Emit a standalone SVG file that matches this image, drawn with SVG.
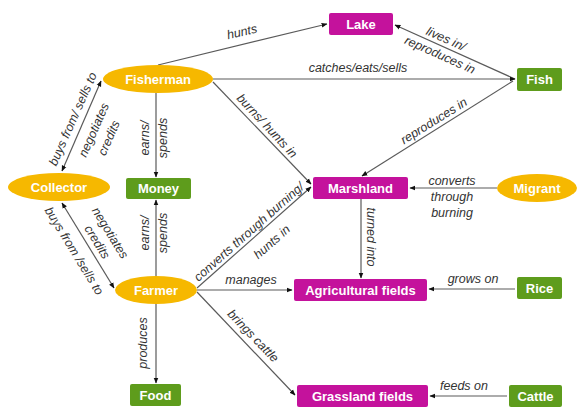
<svg xmlns="http://www.w3.org/2000/svg" width="580" height="407" viewBox="0 0 580 407">
<defs>
<marker id="arr" viewBox="0 0 10 10" refX="9" refY="5" markerWidth="6" markerHeight="6" markerUnits="userSpaceOnUse" orient="auto-start-reverse">
<path d="M0,1 L10,5 L0,9 Z" fill="#111"/>
</marker>
</defs>
<style>
.mag{fill:#c4129c}
.grn{fill:#5e9c1c}
.org{fill:#f6b800}
.nt{font-family:"Liberation Sans",Arial,sans-serif;font-weight:bold;font-size:13px;fill:#fff;text-anchor:middle;dominant-baseline:central}
.e{stroke:#5a5a5a;stroke-width:1.2;fill:none;marker-end:url(#arr)}
.b{marker-start:url(#arr)}
.lb{font-family:"Liberation Sans",Arial,sans-serif;font-style:italic;font-size:12.5px;fill:#333;text-anchor:middle;dominant-baseline:central}
</style>
<rect width="580" height="407" fill="#fff"/>
<g id="connectors">
<path class="e" d="M158,65 L327,24"/>
<path class="e" d="M515,79 L395,25"/>
<path class="e" d="M213,79 L515,79"/>
<path class="e" d="M213,82 L311,184"/>
<path class="e" d="M513,81 L362,176"/>
<path class="e" d="M497,188 L410,188"/>
<path class="e" d="M361,199 L361,278"/>
<path class="e" d="M515,289 L429,289"/>
<path class="e" d="M507,396 L430,396"/>
<path class="e" d="M197,290 L292,290"/>
<path class="e" d="M197,292 L295,395"/>
<path class="e" d="M197,288 L311,187"/>
<path class="e" d="M156,276 L156,200"/>
<path class="e" d="M156,93 L156,177"/>
<path class="e" d="M156,304 L156,383"/>
<path class="e b" d="M62,171 L101,81"/>
<path class="e b" d="M62,203 L114,288"/>
<text class="lb" transform="translate(242,32) rotate(-13)">hunts</text>
<text class="lb" transform="translate(446,39) rotate(24)">lives in/</text>
<text class="lb" transform="translate(440,55) rotate(24)">reproduces in</text>
<text class="lb" x="358" y="68">catches/eats/sells</text>
<text class="lb" transform="translate(267,126) rotate(47)">burns/ hunts in</text>
<text class="lb" transform="translate(434,121) rotate(-32)">reproduces in</text>
<text class="lb" x="452" y="181">converts</text>
<text class="lb" x="452" y="197">through</text>
<text class="lb" x="452" y="213">burning</text>
<text class="lb" transform="translate(371,237) rotate(90)">turned into</text>
<text class="lb" x="473" y="279">grows on</text>
<text class="lb" x="464" y="386">feeds on</text>
<text class="lb" x="251" y="280">manages</text>
<text class="lb" transform="translate(253,336) rotate(46)">brings cattle</text>
<text class="lb" transform="translate(249,232) rotate(-41.5)">converts through burning/</text>
<text class="lb" transform="translate(272,242) rotate(-41.5)">hunts in</text>
<text class="lb" transform="translate(145,233) rotate(-90)">earns/</text>
<text class="lb" transform="translate(163,233) rotate(-90)">spends</text>
<text class="lb" transform="translate(145,138) rotate(-90)">earns/</text>
<text class="lb" transform="translate(163,138) rotate(-90)">spends</text>
<text class="lb" transform="translate(143,343) rotate(-90)">produces</text>
<text class="lb" transform="translate(73,119) rotate(-66)">buys from/ sells to</text>
<text class="lb" transform="translate(94,130) rotate(-66)">negotiates</text>
<text class="lb" transform="translate(109,138) rotate(-66)">credits</text>
<text class="lb" transform="translate(74,251) rotate(58.5)">buys from /sells to</text>
<text class="lb" transform="translate(110,233) rotate(58.5)">negotiates</text>
<text class="lb" transform="translate(97,242) rotate(58.5)">credits</text>
</g>
<g id="lake"><rect class="mag" x="329" y="13" width="64" height="22" rx="2"/><text class="nt" x="361" y="24">Lake</text></g>
<g id="fisherman"><ellipse class="org" cx="158" cy="79" rx="55" ry="14"/><text class="nt" x="158" y="79">Fisherman</text></g>
<g id="fish"><rect class="grn" x="517" y="68" width="45" height="23" rx="2"/><text class="nt" x="539.5" y="79.5">Fish</text></g>
<g id="collector"><ellipse class="org" cx="59" cy="187" rx="51" ry="14"/><text class="nt" x="59" y="187">Collector</text></g>
<g id="money"><rect class="grn" x="126" y="178" width="65" height="21" rx="2"/><text class="nt" x="158.5" y="188.5">Money</text></g>
<g id="marshland"><rect class="mag" x="313" y="177" width="95" height="22" rx="2"/><text class="nt" x="360.5" y="188">Marshland</text></g>
<g id="migrant"><ellipse class="org" cx="537" cy="188" rx="40" ry="14"/><text class="nt" x="537" y="188">Migrant</text></g>
<g id="farmer"><ellipse class="org" cx="156" cy="290" rx="41" ry="14"/><text class="nt" x="156" y="290">Farmer</text></g>
<g id="agricultural"><rect class="mag" x="294" y="279" width="133" height="22" rx="2"/><text class="nt" x="360.5" y="290">Agricultural fields</text></g>
<g id="rice"><rect class="grn" x="517" y="277" width="45" height="22" rx="2"/><text class="nt" x="539.5" y="288">Rice</text></g>
<g id="food"><rect class="grn" x="130" y="384" width="51" height="22" rx="2"/><text class="nt" x="155.5" y="395">Food</text></g>
<g id="grassland"><rect class="mag" x="297" y="385" width="131" height="22" rx="2"/><text class="nt" x="362.5" y="396">Grassland fields</text></g>
<g id="cattle"><rect class="grn" x="509" y="385" width="53" height="22" rx="2"/><text class="nt" x="535.5" y="396">Cattle</text></g>
</svg>
